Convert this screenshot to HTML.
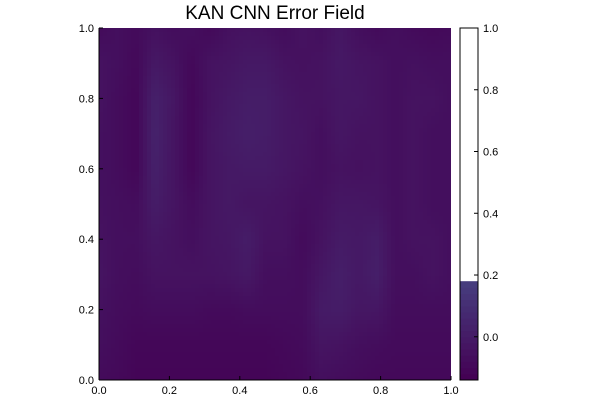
<!DOCTYPE html>
<html><head><meta charset="utf-8"><style>
body{margin:0;background:#fff;font-family:"Liberation Sans",sans-serif}
svg text{font-family:"Liberation Sans",sans-serif}
</style></head><body>
<svg width="600" height="400" viewBox="0 0 600 400">
<defs>
<clipPath id="pc"><rect x="99" y="28" width="352" height="352"/></clipPath>
</defs>
<text x="275" y="19" text-anchor="middle" font-size="19" fill="#000">KAN CNN Error Field</text>
<g id="field" clip-path="url(#pc)"><rect x="99" y="28" width="352" height="352" fill="#45095a"/><g id="cells"></g></g>
<g id="cbar"></g>
<g id="axes"></g>
</svg>
<script>
// rows from y=1 (top) to y=0 (bottom), 20 columns x=0..1
const fieldValues = [
[-0.09,-0.07,-0.09,-0.06,-0.08,-0.07,-0.10,-0.06,-0.05,-0.06,-0.08,-0.05,-0.07,-0.03,-0.07,-0.09,-0.07,-0.09,-0.10,-0.09],
[-0.05,-0.07,-0.10,-0.02,-0.05,-0.10,-0.05,-0.04,-0.02,-0.02,-0.05,-0.06,-0.05,-0.02,-0.04,-0.05,-0.07,-0.06,-0.07,-0.07],
[-0.05,-0.08,-0.11,0.02,-0.03,-0.11,-0.05,-0.02,0.00,0.00,-0.03,-0.05,-0.05,-0.03,-0.03,-0.05,-0.07,-0.05,-0.05,-0.07],
[-0.06,-0.08,-0.11,0.03,-0.04,-0.11,-0.04,-0.01,0.01,0.00,-0.03,-0.04,-0.07,-0.03,-0.05,-0.05,-0.07,-0.05,-0.07,-0.07],
[-0.06,-0.08,-0.11,0.02,-0.04,-0.11,-0.04,-0.02,-0.01,-0.01,-0.03,-0.05,-0.07,-0.05,-0.06,-0.05,-0.07,-0.05,-0.07,-0.07],
[-0.06,-0.07,-0.08,0.00,-0.04,-0.08,-0.04,-0.02,-0.04,-0.04,-0.05,-0.07,-0.06,-0.03,-0.03,-0.04,-0.07,-0.05,-0.07,-0.07],
[-0.05,-0.07,-0.07,-0.03,-0.05,-0.07,-0.04,-0.03,0.00,-0.05,-0.05,-0.09,-0.05,-0.01,-0.02,0.00,-0.07,-0.05,-0.05,-0.07],
[-0.04,-0.07,-0.08,-0.05,-0.05,-0.05,-0.05,-0.04,-0.02,-0.07,-0.07,-0.08,-0.03,0.01,-0.02,0.01,-0.07,-0.07,-0.05,-0.07],
[-0.06,-0.08,-0.09,-0.08,-0.08,-0.08,-0.09,-0.09,-0.08,-0.08,-0.08,-0.08,-0.01,0.00,-0.03,-0.03,-0.08,-0.08,-0.08,-0.08],
[-0.07,-0.09,-0.11,-0.11,-0.11,-0.11,-0.11,-0.11,-0.11,-0.11,-0.10,-0.09,-0.04,-0.05,-0.07,-0.08,-0.09,-0.09,-0.09,-0.09],
[-0.09,-0.10,-0.12,-0.12,-0.12,-0.12,-0.12,-0.12,-0.12,-0.12,-0.11,-0.10,-0.07,-0.08,-0.09,-0.10,-0.10,-0.10,-0.10,-0.10]
];
const xTicks=[0,0.2,0.4,0.6,0.8,1.0];
const yTicks=[0,0.2,0.4,0.6,0.8,1.0];
const xTickLabels=["0.0","0.2","0.4","0.6","0.8","1.0"];
const cbTicks=[0,0.2,0.4,0.6,0.8,1.0];
const cbLevels=[-0.14,-0.12,-0.10,-0.08,-0.06,-0.04,-0.02,0,0.02,0.04,0.06,0.08,0.10,0.12,0.14,0.16,0.18];
const cbMin=-0.14, cbMax=1.0, colMax=0.18;
const X0=99,X1=451,Y0=380,Y1=28;
const sx=v=>X0+(X1-X0)*v, sy=v=>Y0-(Y0-Y1)*v;
const cy=v=>380-(380-28)*(v-cbMin)/(cbMax-cbMin);
function color(v){let t=Math.max(0,Math.min(1,(v-cbMin)/(colMax-cbMin)));
 const a=[68,1,84],b=[70,64,128];return `rgb(${a.map((c,i)=>Math.round(c+(b[i]-c)*t)).join(',')})`;}
const NS="http://www.w3.org/2000/svg";
function mk(tag,at,parent){const e=document.createElementNS(NS,tag);for(const k in at)e.setAttribute(k,at[k]);parent.appendChild(e);return e;}
const cells=document.getElementById('cells');
const nr=fieldValues.length,nc=fieldValues[0].length;
function sample(fx,fy){ // fx,fy in data coords 0..1 (fy from top)
 const gx=fx*(nc-1),gy=fy*(nr-1);
 const i=Math.min(nc-2,Math.floor(gx)),j=Math.min(nr-2,Math.floor(gy));
 const tx=gx-i,ty=gy-j;
 const a=fieldValues[j][i],b=fieldValues[j][i+1],c=fieldValues[j+1][i],d=fieldValues[j+1][i+1];
 return (a*(1-tx)+b*tx)*(1-ty)+(c*(1-tx)+d*tx)*ty;
}
const step=4;
for(let py=0;py<352;py+=step){for(let px=0;px<352;px+=step){
 const v=sample((px+step/2)/352,(py+step/2)/352);
 const e=mk('rect',{x:X0+px,y:Y1+py,width:step+0.5,height:step+0.5,fill:color(v)},cells);
 
 
}}
const cb=document.getElementById('cbar');
mk('rect',{x:460,y:28,width:18,height:352,fill:'#fff'},cb);
for(let i=0;i<cbLevels.length-1;i++){
 const e=mk('rect',{x:460,y:cy(cbLevels[i+1]),width:18,height:cy(cbLevels[i])-cy(cbLevels[i+1])+0.5,fill:color(cbLevels[i])},cb);
 
 
}
mk('rect',{x:460,y:28,width:18,height:352,fill:'none',stroke:'#000','stroke-width':1},cb);
cbTicks.forEach(t=>{
 mk('line',{x1:474,x2:478,y1:cy(t),y2:cy(t),stroke:'#000'},cb);
 const e=mk('text',{x:483,y:cy(t)+4,'font-size':11},cb);e.textContent=t.toFixed(1);
 
 
});
const ax=document.getElementById('axes');
mk('line',{x1:X0,x2:X0,y1:Y1,y2:Y0,stroke:'#000'},ax);
mk('line',{x1:X0,x2:X1,y1:Y0,y2:Y0,stroke:'#000'},ax);
xTicks.forEach((t,i)=>{
 mk('line',{x1:sx(t),x2:sx(t),y1:Y0,y2:Y0-4,stroke:'#000'},ax);
 const e=mk('text',{x:sx(t),y:394,'font-size':11,'text-anchor':'middle'},ax);e.textContent=xTickLabels[i];
 
 
});
yTicks.forEach(t=>{
 mk('line',{x1:X0,x2:X0+4,y1:sy(t),y2:sy(t),stroke:'#000'},ax);
 const e=mk('text',{x:94,y:sy(t)+4,'font-size':11,'text-anchor':'end'},ax);e.textContent=t.toFixed(1);
 
 
});
</script>
</body></html>
